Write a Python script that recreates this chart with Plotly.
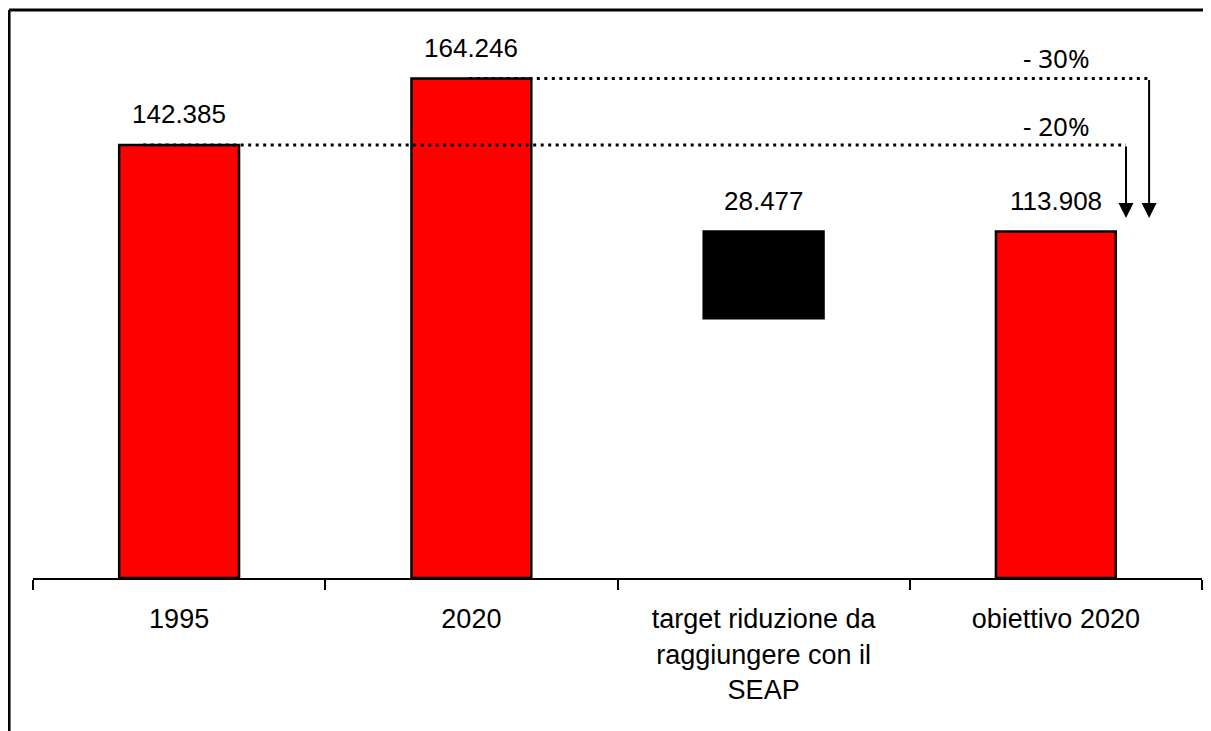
import plotly.graph_objects as go

categories = ["1995", "2020", "target riduzione da<br>raggiungere con il<br>SEAP", "obiettivo 2020"]
values = [142.385, 164.246, 28.477, 113.908]
bases = [0, 0, 113.908 - 28.477, 0]
colors = ["#FF0000", "#FF0000", "#000000", "#FF0000"]
value_labels = ["142.385", "164.246", "28.477", "113.908"]
pct_labels = ["- 20%", "- 30%"]

fig = go.Figure()
fig.add_trace(go.Bar(
    x=categories, y=values, base=bases,
    marker=dict(color=colors, line=dict(color="black", width=2.5)),
    width=0.41, showlegend=False, hoverinfo="skip",
))

for i, (v, b, t) in enumerate(zip(values, bases, value_labels)):
    fig.add_annotation(x=i, y=v + b, text=t, showarrow=False, yanchor="middle",
                       yshift=31, font=dict(family="Liberation Sans, Arial", size=26, color="black"))

# dotted reference lines and arrows
ref_1995 = values[0]
ref_2020 = values[1]
tip = 118.4
x_end_20 = 3.24
x_end_30 = 3.319
fig.add_shape(type="line", xref="x", yref="y", x0=-0.123, x1=x_end_20, y0=ref_1995, y1=ref_1995,
              line=dict(color="black", width=3, dash="3px,4.5px"))
fig.add_shape(type="line", xref="x", yref="y", x0=0.993, x1=x_end_30, y0=ref_2020, y1=ref_2020,
              line=dict(color="black", width=3, dash="3px,4.5px"))
for xe, ys in [(x_end_20, ref_1995), (x_end_30, ref_2020)]:
    fig.add_annotation(x=xe, y=tip, ax=xe, ay=ys, axref="x", ayref="y", xref="x", yref="y",
                       showarrow=True, arrowhead=2, arrowsize=1.5, arrowwidth=2, arrowcolor="black", text="")

fig.add_annotation(x=3.0, y=148.7, text=pct_labels[0], showarrow=False,
                   font=dict(family="Noto Sans", size=26, color="black"))
fig.add_annotation(x=3.0, y=171.0, text=pct_labels[1], showarrow=False,
                   font=dict(family="Noto Sans", size=26, color="black"))

# frame (partially cropped in the reference)
fig.add_shape(type="line", xref="paper", yref="paper", x0=-0.0205, x1=1.05, y0=1.0179, y1=1.0179,
              line=dict(color="black", width=3))
fig.add_shape(type="line", xref="paper", yref="paper", x0=-0.0205, x1=-0.0205, y0=1.0179, y1=-0.4,
              line=dict(color="black", width=3))

fig.update_layout(
    width=1203, height=723,
    margin=dict(l=25, r=9, t=12, b=153),
    paper_bgcolor="white", plot_bgcolor="white",
    xaxis=dict(type="category", range=[-0.5, 3.5], showline=True, linecolor="black", linewidth=2,
               ticks="outside", ticklen=10, tickwidth=2, tickcolor="black", tickson="boundaries",
               showgrid=False, zeroline=False, ticklabelstandoff=16,
               tickfont=dict(family="Liberation Sans, Arial", size=27, color="black")),
    yaxis=dict(range=[0, 183.5], visible=False),
    bargap=0.59,
)

fig.write_html("out.html")
